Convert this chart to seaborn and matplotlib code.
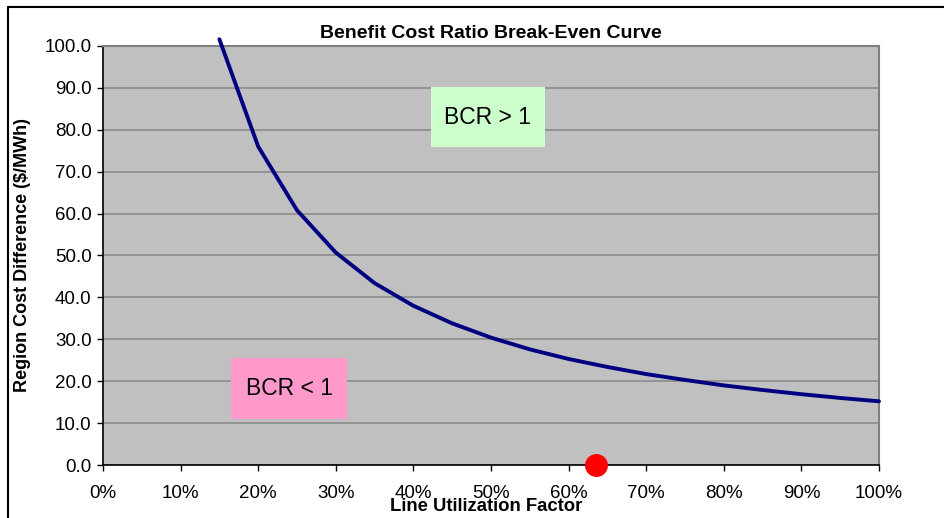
import matplotlib
matplotlib.use('Agg')
import matplotlib.pyplot as plt
import matplotlib.ticker as mticker
from matplotlib.lines import Line2D
from matplotlib.patches import Rectangle
import seaborn as sns
import pandas as pd

# Data
utilization = [0.15, 0.20, 0.25, 0.30, 0.35, 0.40, 0.45, 0.50, 0.55, 0.60,
               0.65, 0.70, 0.75, 0.80, 0.85, 0.90, 0.95, 1.00]
cost_diff = [101.6, 76.0, 60.8, 50.7, 43.4, 38.0, 33.8, 30.4, 27.6, 25.3,
             23.4, 21.7, 20.3, 19.0, 17.9, 16.9, 16.0, 15.2]
current_point = (0.635, 0.0)
x_ticks = [0, 0.1, 0.2, 0.3, 0.4, 0.5, 0.6, 0.7, 0.8, 0.9, 1.0]
y_ticks = [0, 10, 20, 30, 40, 50, 60, 70, 80, 90, 100]

df = pd.DataFrame({'util': utilization, 'cost': cost_diff})

sns.set_style('white', {'axes.facecolor': '#C0C0C0'})
plt.rcParams['font.family'] = ['Liberation Sans', 'DejaVu Sans']
plt.rcParams.update({'text.color': 'black', 'axes.labelcolor': 'black',
                     'xtick.color': 'black', 'ytick.color': 'black'})

fig = plt.figure(figsize=(9.45, 5.18), dpi=100)
ax = fig.add_axes([103/945, 1 - 465/518, 776/945, 419/518])

sns.lineplot(data=df, x='util', y='cost', ax=ax, color='#000080',
             linewidth=2.8, clip_on=False, zorder=5)
ax.plot(*current_point, 'o', color='#FF0000', markersize=15.5, clip_on=False, zorder=6)

ax.set_xlim(0, 1)
ax.set_ylim(0, 100)
ax.set_xticks(x_ticks)
ax.set_yticks(y_ticks)
ax.xaxis.set_major_formatter(mticker.PercentFormatter(1.0, decimals=0))
ax.yaxis.set_major_formatter(mticker.FormatStrFormatter('%.1f'))
ax.tick_params(axis='both', labelsize=13.5, length=4.3, width=1, color='black',
               labelcolor='black', direction='out', pad=4, bottom=True, left=True)
ax.tick_params(axis='x', pad=10)
ax.grid(axis='y', color='#8C8C8C', linewidth=1.2)
ax.set_axisbelow(True)

for side in ['top', 'right']:
    ax.spines[side].set_color('#808080')
    ax.spines[side].set_linewidth(1.5)
for side in ['left', 'bottom']:
    ax.spines[side].set_color('black')
    ax.spines[side].set_linewidth(1.2)

ax.set_title('Benefit Cost Ratio Break-Even Curve', fontsize=14, fontweight='bold',
             pad=6, color='black')
ax.set_xlabel('Line Utilization Factor', fontsize=13.3, fontweight='bold')
ax.set_ylabel('Region Cost Difference ($/MWh)', fontsize=13, fontweight='bold')
ax.xaxis.set_label_coords(0.494, -0.078)
ax.yaxis.set_label_coords(-(103 - 31) / 776, 0.5)

# region labels
ax.add_patch(Rectangle((0.4227, 75.9), 0.1469, 14.3, facecolor='#CCFFCC',
                       edgecolor='none', zorder=3))
ax.text(0.496, 83.05, 'BCR > 1', fontsize=16.5, ha='center', va='center', zorder=4)
ax.add_patch(Rectangle((0.165, 11.0), 0.1494, 14.5, facecolor='#FF99CC',
                       edgecolor='none', zorder=3))
ax.text(0.2397, 18.25, 'BCR < 1', fontsize=16.5, ha='center', va='center', zorder=4)

# outer chart frame (only top/left visible in the crop)
fig.add_artist(Line2D([8/945, 8/945], [-0.1, 1 - 7/518], color='black', linewidth=1.5))
fig.add_artist(Line2D([8/945, 1.1], [1 - 7/518, 1 - 7/518], color='black', linewidth=1.5))

fig.savefig('out.png', dpi=100)
